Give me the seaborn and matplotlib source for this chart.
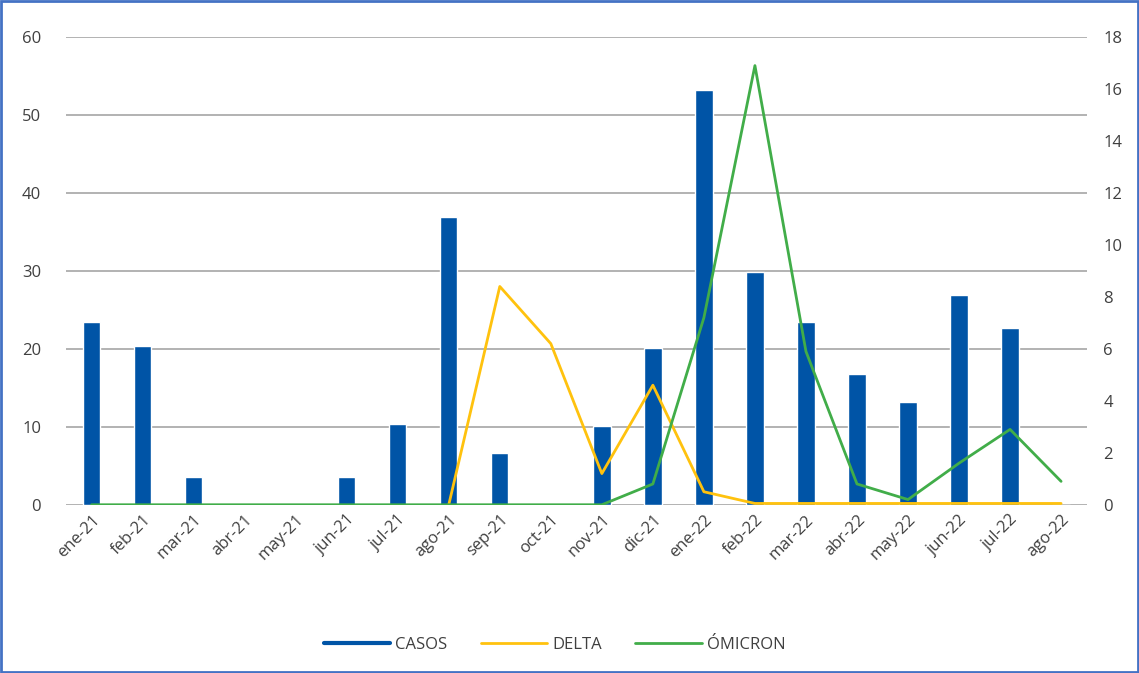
import numpy as np
import pandas as pd
import seaborn as sns
import matplotlib.pyplot as plt
from matplotlib.lines import Line2D
from matplotlib.patches import Rectangle

# Data
meses = ["ene-21", "feb-21", "mar-21", "abr-21", "may-21", "jun-21", "jul-21",
         "ago-21", "sep-21", "oct-21", "nov-21", "dic-21", "ene-22", "feb-22",
         "mar-22", "abr-22", "may-22", "jun-22", "jul-22", "ago-22"]
casos = [23.5, 20.3, 3.6, 0, 0, 3.6, 10.3, 36.9, 6.7, 0, 10.1, 20.1,
         53.2, 29.9, 23.5, 16.8, 13.2, 26.9, 22.7, 0]
delta = [np.nan, np.nan, np.nan, np.nan, np.nan, np.nan, np.nan, 0, 8.4, 6.2,
         1.2, 4.6, 0.5, 0.05, 0.05, 0.05, 0.05, 0.05, 0.05, 0.05]
omicron = [0, 0, 0, 0, 0, 0, 0, 0, 0, 0, 0, 0.8, 7.2, 16.9, 5.9, 0.8,
           0.2, 1.6, 2.9, 0.9]

c_casos = "#0054A6"
c_delta = "#FFC20E"
c_omicron = "#41AD49"
txt = "#404040"

sns.set_theme(style="white")
plt.rcParams['font.family'] = ['Open Sans', 'DejaVu Sans']

df = pd.DataFrame({"mes": meses, "casos": casos, "delta": delta,
                   "omicron": omicron, "pos": np.arange(len(meses))})

fig = plt.figure(figsize=(11.39, 6.73), dpi=100)
ax = fig.add_axes([0.058, 0.250, 0.896, 0.695])

sns.barplot(data=df, x="mes", y="casos", color=c_casos, width=0.34,
            saturation=1, ax=ax)
ax.set_ylim(0, 60)
ax.set_yticks(range(0, 61, 10))
ax.set_xlim(-0.5, len(meses) - 0.5)
ax.yaxis.grid(True, color="#A6A6A6", linewidth=1.2)
ax.set_axisbelow(True)
ax.set_xlabel("")
ax.set_ylabel("")
ax.tick_params(axis="y", labelsize=12, colors=txt, length=0, pad=18)
ax.tick_params(axis="x", labelsize=12, colors=txt, length=0, pad=5)
plt.setp(ax.get_xticklabels(), rotation=45, ha="right", rotation_mode="anchor")
for s in ax.spines.values():
    s.set_visible(False)

ax2 = ax.twinx()
sns.lineplot(data=df, x="pos", y="delta", color=c_delta, linewidth=2, ax=ax2)
sns.lineplot(data=df, x="pos", y="omicron", color=c_omicron, linewidth=2, ax=ax2)
ax2.set_ylim(0, 18)
ax2.set_yticks(range(0, 19, 2))
ax2.set_xlim(-0.5, len(meses) - 0.5)
ax2.set_ylabel("")
ax2.tick_params(axis="y", labelsize=12, colors=txt, length=0, pad=12)
for s in ax2.spines.values():
    s.set_visible(False)

handles = [Line2D([], [], color=c_casos, linewidth=3),
           Line2D([], [], color=c_delta, linewidth=2),
           Line2D([], [], color=c_omicron, linewidth=2)]
fig.legend(handles, ["CASOS", "DELTA", "ÓMICRON"], loc="center",
           bbox_to_anchor=(0.487, 0.042), ncol=3, frameon=False,
           fontsize=12, handlelength=4.0, columnspacing=2.0,
           labelcolor=txt, handletextpad=0.3)

fig.patches.append(Rectangle((0.001, 0.001), 0.998, 0.998, transform=fig.transFigure,
                             fill=False, edgecolor="#4472C4", linewidth=2))

fig.savefig("out.png", dpi=100)
